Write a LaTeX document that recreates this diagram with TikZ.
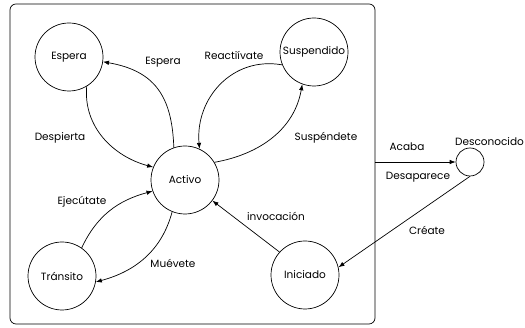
\documentclass[tikz,border=0pt]{standalone}
\usepackage{fontspec}
\setmainfont{Poppins}
\usetikzlibrary{arrows.meta}
\tikzset{
  st/.style={draw, circle, minimum size=68pt, inner sep=1pt, line width=0.7pt},
  lbl/.style={inner sep=0pt},
  tr/.style={line width=0.7pt, -{Latex[length=6pt,width=4.5pt]}},
}
\begin{document}
\begin{tikzpicture}[x=1pt,y=1pt,font=\fontsize{10.5}{12}\selectfont]
\useasboundingbox (0,0) rectangle (525,328);
\node[draw, rounded corners=6pt, minimum width=365pt, minimum height=320pt, line width=0.7pt] (box) at (192.5,164) {};
\node[st] (esp) at (69,271) {Espera};
\node[st] (act) at (185,148) {Activo};
\node[st] (sus) at (314,276) {Suspendido};
\node[st] (tra) at (62,52) {Tránsito};
\node[st] (ini) at (305,53) {Iniciado};
\node[draw, circle, minimum size=28pt, inner sep=0pt, line width=0.7pt] (des) at (470,166) {};
\node[lbl] (desl) at (489.5,186) {Desconocido};

\draw[tr] (act.109) to[out=92,in=-10,looseness=1.2] (esp.-8);
\draw[tr] (esp.-59) to[out=-95,in=165] (act.158);
\draw[tr] (sus.202) to[out=170,in=95,looseness=1.1] (act.65);
\draw[tr] (act.31) to[out=10,in=-100] (sus.-110);
\draw[tr] (tra.55) to[out=65,in=195] (act.199);
\draw[tr] (act.-112) to[out=-105,in=15] (tra.-10);
\draw[tr] (ini.138) -- (act.-37);
\draw[tr] (box.east |- des.west) -- (des.west);
\draw[tr] (des.-90) -- (ini.13);

\node[lbl] (l1) at (163,266) {Espera};
\node[lbl] (l2) at (60,190) {Despierta};
\node[lbl] (l3) at (234,273) {Reactiívate};
\node[lbl] (l4) at (326,190) {Suspéndete};
\node[lbl] (l5) at (82,126) {Ejecútate};
\node[lbl] (l6) at (173,65) {Muévete};
\node[lbl] (l7) at (276,112) {invocación};
\node[lbl] (l8) at (407,181) {Acaba};
\node[lbl] (l9) at (418,151) {Desaparece};
\node[lbl] (l10) at (427,98) {Créate};
\end{tikzpicture}
\end{document}
